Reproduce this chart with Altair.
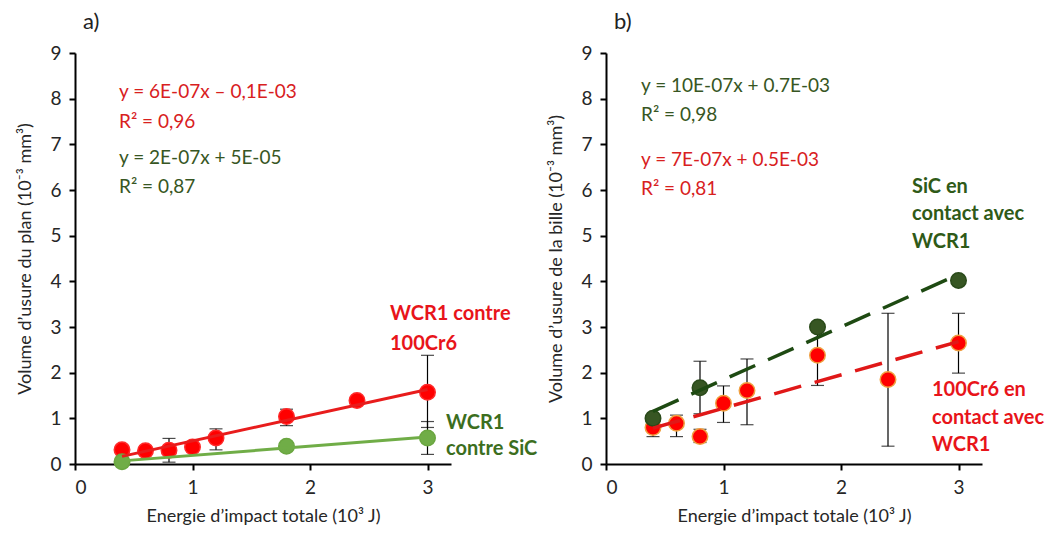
import altair as alt
import pandas as pd

# ---------------- data ----------------
energy = [0.4, 0.6, 0.8, 1.0, 1.2, 1.8, 2.4, 3.0]

# panel a) plan wear
a_red_y = [0.31, 0.29, 0.30, 0.37, 0.57, 1.04, 1.39, 1.57]
a_red_err_x = [0.8, 1.2, 1.8, 3.0]
a_red_err_lo = [0.04, 0.31, 0.84, 0.80]
a_red_err_hi = [0.56, 0.77, 1.20, 2.38]

a_green_x = [0.4, 1.8, 3.0]
a_green_y = [0.05, 0.39, 0.57]
a_green_err_x = [3.0]
a_green_err_lo = [0.21]
a_green_err_hi = [0.93]

# panel b) ball wear
b_red_y = [0.80, 0.89, 0.60, 1.33, 1.61, 2.38, 1.85, 2.65]
b_red_err_lo = [0.60, 0.60, 0.47, 0.91, 0.86, 1.72, 0.39, 1.99]
b_red_err_hi = [1.00, 1.07, 0.76, 1.71, 2.30, 3.05, 3.30, 3.30]

b_green_x = [0.4, 0.8, 1.8, 3.0]
b_green_y = [1.00, 1.67, 3.00, 4.02]
b_green_err_x = [0.8]
b_green_err_lo = [1.10]
b_green_err_hi = [2.25]

x_ticks = [0, 1, 2, 3]
y_ticks = [0, 1, 2, 3, 4, 5, 6, 7, 8, 9]

FONT = "Lato"
W, H = 376, 411

xscale = alt.Scale(domain=[0, 3.2], nice=False)
yscale = alt.Scale(domain=[0, 9], nice=False)


def xenc():
    return alt.X("x:Q", scale=xscale,
                 axis=alt.Axis(values=x_ticks, format="d",
                               title="Energie d\u2019impact totale (10\u00b3 J)"))


def yenc(title):
    return alt.Y("y:Q", scale=yscale,
                 axis=alt.Axis(values=y_ticks, format="d", title=title, titlePadding=15))


def points(xs, ys, fill, stroke, size=240):
    df = pd.DataFrame({"x": xs, "y": ys})
    return alt.Chart(df).mark_point(filled=True, size=size, fill=fill, stroke=stroke,
                                    strokeWidth=1.5, opacity=1).encode(x="x:Q", y="y:Q")


def errbars(xs, lo, hi):
    df = pd.DataFrame({"x": xs, "lo": lo, "hi": hi})
    base = alt.Chart(df)
    rule = base.mark_rule(color="black", strokeWidth=1.2).encode(
        x="x:Q", y="lo:Q", y2="hi:Q")
    t1 = base.mark_tick(color="black", orient="horizontal", size=13, thickness=1.2).encode(
        x="x:Q", y="lo:Q")
    t2 = base.mark_tick(color="black", orient="horizontal", size=13, thickness=1.2).encode(
        x="x:Q", y="hi:Q")
    return rule + t1 + t2


def trend(xs, ys, color, dash=None, width=3):
    df = pd.DataFrame({"x": xs, "y": ys})
    kw = dict(color=color, strokeWidth=width)
    if dash:
        kw["strokeDash"] = dash
    return alt.Chart(df).transform_regression("x", "y").mark_line(**kw).encode(
        x="x:Q", y="y:Q")


def label(text, px, py, color, bold=False, size=19):
    return alt.Chart(pd.DataFrame({"t": [text]})).mark_text(
        align="left", baseline="middle", font=FONT, fontSize=size,
        fontWeight="bold" if bold else "normal", color=color
    ).encode(x=alt.value(px), y=alt.value(py), text="t:N")


RED = "#ff0000"
RED_TXT = "#d8201e"
GREEN_A = "#70ad47"
DGREEN = "#375623"
GTXT_A = "#3c6e1e"
GTXT_B = "#2f5a18"
BOLD = 20


def title(t):
    return alt.Title(t, anchor="start", frame="group", dx=8, fontSize=22, fontWeight="normal",
                     font=FONT, color="#222222", offset=10)


# ---------------- panel a ----------------
base_a = alt.Chart(pd.DataFrame({"x": energy, "y": a_red_y})).mark_point(opacity=0).encode(
    x=xenc(), y=yenc("Volume d\u2019usure du plan (10\u207b\u00b3 mm\u00b3)"))

panel_a = alt.layer(
    base_a,
    errbars(a_red_err_x, a_red_err_lo, a_red_err_hi),
    errbars(a_green_err_x, a_green_err_lo, a_green_err_hi),
    points(energy, a_red_y, RED, "#ff2a2a"),
    points(a_green_x, a_green_y, GREEN_A, "#6aa640"),
    trend(energy, a_red_y, "#e81c1c"),
    trend(a_green_x, a_green_y, GREEN_A),
    label("y = 6E-07x \u2013 0,1E-03", 44, 39, RED_TXT),
    label("R\u00b2 = 0,96", 44, 69, RED_TXT),
    label("y = 2E-07x + 5E-05", 44, 105, DGREEN),
    label("R\u00b2 = 0,87", 44, 134, DGREEN),
    label("WCR1 contre", 315, 261, "#e8141a", bold=True, size=BOLD),
    label("100Cr6", 315, 291, "#e8141a", bold=True, size=BOLD),
    label("WCR1", 371, 370, GTXT_A, bold=True, size=BOLD),
    label("contre SiC", 371, 396, GTXT_A, bold=True, size=BOLD),
).properties(width=W, height=H, title=title("a)"))

# ---------------- panel b ----------------
base_b = alt.Chart(pd.DataFrame({"x": energy, "y": b_red_y})).mark_point(opacity=0).encode(
    x=xenc(), y=yenc("Volume d\u2019usure de la bille (10\u207b\u00b3 mm\u00b3)"))

panel_b = alt.layer(
    base_b,
    errbars(energy, b_red_err_lo, b_red_err_hi),
    errbars(b_green_err_x, b_green_err_lo, b_green_err_hi),
    points(energy, b_red_y, RED, "#f0a040"),
    points(b_green_x, b_green_y, DGREEN, "#2a4a1a"),
    trend(b_green_x, b_green_y, "#1e4a12", dash=[28, 14], width=3.5),
    trend(energy, b_red_y, "#e01818", dash=[28, 14], width=3.5),
    label("y = 10E-07x + 0.7E-03", 35, 33, DGREEN),
    label("R\u00b2 = 0,98", 35, 62, DGREEN),
    label("y = 7E-07x + 0.5E-03", 35, 107, RED_TXT),
    label("R\u00b2 = 0,81", 35, 136, RED_TXT),
    label("SiC en", 306, 134, GTXT_B, bold=True, size=BOLD),
    label("contact avec", 306, 161, GTXT_B, bold=True, size=BOLD),
    label("WCR1", 306, 189, GTXT_B, bold=True, size=BOLD),
    label("100Cr6 en", 326, 337, "#e8141a", bold=True, size=BOLD),
    label("contact avec", 326, 365, "#e8141a", bold=True, size=BOLD),
    label("WCR1", 326, 392, "#e8141a", bold=True, size=BOLD),
).properties(width=W, height=H, title=title("b)"))

chart = alt.hconcat(panel_a, panel_b, spacing=155, bounds="flush").configure_axis(
    grid=False, domainColor="black", domainWidth=2, tickColor="black", tickWidth=2,
    tickSize=6, labelFont=FONT, labelFontSize=19, labelColor="#262626", labelPadding=8,
    titleFont=FONT, titleFontSize=18, titleFontWeight="normal", titleColor="#262626",
    titlePadding=10
).configure_view(stroke=None).properties(padding={"left": 8, "top": 3, "right": 5, "bottom": 5})

chart.save("out.html", embed_options={"renderer": "svg", "actions": False})
